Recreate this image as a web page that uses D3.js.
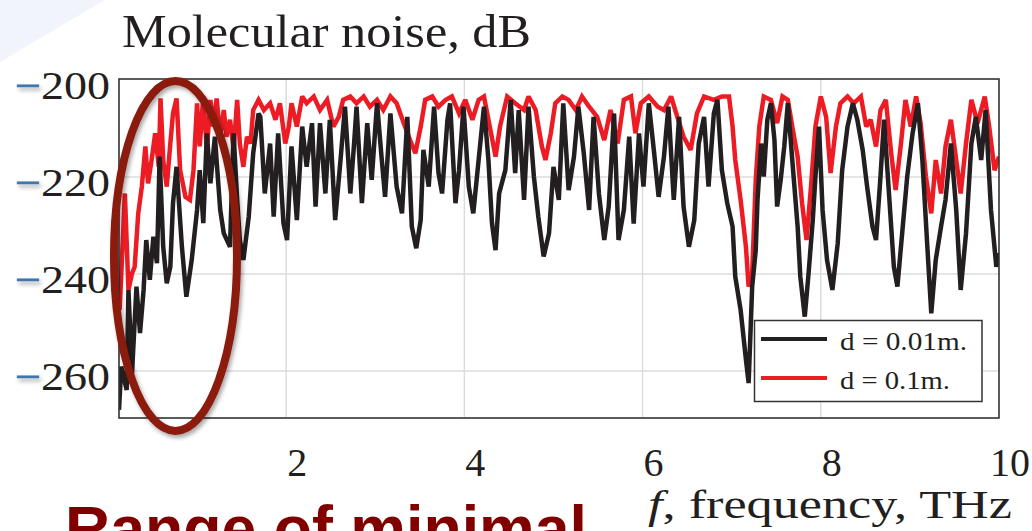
<!DOCTYPE html>
<html>
<head>
<meta charset="utf-8">
<script src="https://cdnjs.cloudflare.com/ajax/libs/d3/7.8.5/d3.min.js"></script>
<style>
  html, body { margin: 0; padding: 0; background: #ffffff; }
  svg { display: block; }
</style>
</head>
<body>
<svg id="chart" width="1032" height="531"></svg>
<script>
// ---------- data ----------
const blackFreq = [0.124,0.15,0.21,0.23,0.27,0.32,0.36,0.40,0.43,0.47,0.51,0.55,0.58,0.62,0.66,0.70,0.73,0.77,0.83,0.88,0.94,1.00,1.03,1.07,1.11,1.15,1.20,1.26,1.30,1.37,1.41,1.45,1.48,1.52,1.58,1.63,1.69,
  1.71,1.76,1.82,1.86,1.91,1.97,2.01,2.06,2.12,2.18,2.23,2.29,2.33,2.38,2.44,2.49,2.55,2.61,2.66,2.72,2.76,2.79,2.85,2.91,2.96,3.02,3.07,3.11,3.17,3.24,3.30,3.36,3.41,3.46,3.51,3.54,3.60,3.66,3.71,3.75,3.81,3.84,3.90,3.94,3.99,4.05,4.10,4.16,4.22,4.27,4.31,4.35,4.39,
  4.46,4.52,4.57,4.61,4.67,4.72,4.78,4.83,4.89,4.95,5.00,5.06,5.11,5.17,5.23,5.28,5.34,5.40,5.45,5.51,5.57,5.62,5.68,5.73,5.79,5.85,5.90,5.96,6.01,6.07,6.13,6.18,6.24,6.29,6.35,6.41,6.46,6.52,6.58,6.63,6.69,6.74,6.80,6.84,6.89,6.95,7.01,7.04,7.10,7.16,7.19,7.23,7.27,
  7.29,7.33,7.36,7.40,7.44,7.48,7.51,7.55,7.59,7.63,7.68,7.74,7.77,7.82,7.86,7.91,7.94,7.98,8.02,8.07,8.13,8.19,8.24,8.30,8.36,8.41,8.47,8.52,8.58,8.62,8.67,8.71,8.77,8.82,8.86,8.92,8.97,9.03,9.09,9.14,9.20,9.24,9.29,9.35,9.40,9.46,9.52,9.57,9.63,9.69,9.74,9.80,9.85,9.91,9.97,10.0];
const blackDb = [-268.0,-259.1,-263.9,-243.3,-260.5,-242.6,-252.2,-243.3,-233.0,-241.2,-232.3,-237.8,-215.8,-234.4,-241.9,-238.5,-225.4,-217.9,-234.4,-244.7,-237.1,-226.8,-218.6,-229.5,-211.0,-221.3,-211.7,-226.8,-231.6,-234.4,-211.0,-224.7,-233.0,-237.1,-228.2,-215.1,-206.9,
  -207.6,-223.4,-213.1,-228.2,-211.0,-229.6,-233.0,-213.7,-228.9,-209.6,-217.9,-208.9,-226.1,-208.9,-223.4,-208.2,-228.9,-216.5,-205.5,-223.4,-213.7,-205.5,-225.4,-208.9,-220.6,-204.8,-215.8,-224.1,-206.9,-222.0,-227.5,-207.6,-230.2,-234.7,-228.9,-214.4,-222.0,-205.5,-219.2,-223.4,-208.2,-204.8,-225.4,-218.6,-205.5,-222.0,-227.5,-216.5,-205.5,-216.5,-229.6,-235.1,-223.4,
  -218.6,-204.1,-219.2,-206.2,-224.7,-205.5,-219.9,-228.2,-236.4,-231.6,-217.9,-224.7,-204.8,-222.7,-215.8,-205.5,-215.1,-226.8,-207.6,-223.4,-233.0,-226.1,-206.9,-233.0,-226.8,-211.7,-229.6,-211.0,-222.0,-204.8,-215.1,-224.1,-215.8,-205.5,-224.7,-207.6,-226.1,-234.4,-228.9,-213.1,-207.6,-222.0,-206.9,-204.1,-218.6,-225.4,-230.2,-240.5,-247.4,-257.7,-262.5,-242.6,-235.1,
  -224.7,-213.1,-219.9,-208.2,-204.8,-212.4,-226.1,-220.6,-213.7,-204.8,-216.5,-230.2,-240.5,-248.8,-240.5,-228.9,-219.9,-209.6,-226.8,-237.1,-243.3,-233.7,-218.6,-209.6,-204.8,-208.2,-214.4,-222.0,-230.2,-233.0,-219.9,-208.2,-224.7,-238.5,-242.6,-230.2,-219.9,-211.0,-204.8,-216.5,-235.7,-248.1,-237.1,-230.2,-224.7,-213.1,-226.8,-243.3,-231.6,-213.1,-207.6,-216.5,-206.2,-226.8,-238.5,-235.7];

const redFreq = [0.13,0.15,0.19,0.23,0.27,0.30,0.34,0.38,0.42,0.45,0.49,0.53,0.57,0.59,0.62,0.66,0.70,0.73,0.77,0.81,0.87,0.92,0.96,1.00,1.03,1.07,1.11,1.15,1.18,1.22,1.26,1.30,1.33,1.37,1.41,1.45,1.48,1.52,1.56,1.60,1.63,1.69,
  1.75,1.82,1.88,1.93,1.99,2.03,2.06,2.12,2.18,2.23,2.31,2.38,2.46,2.53,2.59,2.64,2.72,2.79,2.87,2.94,3.02,3.09,3.17,3.24,3.32,3.39,3.45,3.51,3.56,3.64,3.71,3.79,3.86,3.94,4.01,4.09,4.16,4.22,4.27,4.35,4.40,
  4.48,4.57,4.67,4.72,4.80,4.87,4.91,4.97,5.02,5.10,5.17,5.25,5.32,5.40,5.49,5.57,5.64,5.72,5.79,5.87,5.92,5.98,6.07,6.17,6.24,6.32,6.39,6.46,6.54,6.61,6.69,6.80,6.89,6.97,7.01,7.04,7.10,7.16,7.19,7.23,7.27,
  7.31,7.36,7.44,7.51,7.57,7.63,7.68,7.74,7.79,7.84,7.89,7.94,8.00,8.06,8.11,8.17,8.22,8.30,8.37,8.45,8.51,8.56,8.62,8.67,8.73,8.79,8.84,8.90,8.95,9.01,9.07,9.12,9.18,9.24,9.29,9.35,9.40,9.46,9.52,9.57,9.63,9.69,9.76,9.84,9.89,9.95,10.0];
const redDb = [-247.4,-239.9,-223.4,-243.3,-239.9,-238.5,-227.5,-222.0,-213.7,-221.3,-216.5,-211.0,-217.9,-203.8,-216.5,-222.0,-213.1,-206.9,-203.8,-218.6,-224.1,-224.7,-218.6,-204.8,-213.7,-203.4,-214.4,-204.1,-209.6,-203.8,-211.7,-206.2,-211.7,-208.2,-214.4,-204.1,-213.1,-217.9,-211.7,-213.1,-206.2,-204.1,
  -206.2,-204.8,-208.2,-204.8,-213.1,-209.6,-204.8,-209.6,-203.4,-204.8,-203.4,-206.2,-204.1,-209.6,-207.6,-204.1,-203.4,-204.8,-203.4,-205.5,-204.1,-206.2,-203.4,-204.8,-208.9,-212.4,-215.1,-209.6,-204.1,-203.4,-205.5,-204.1,-203.4,-206.9,-204.1,-208.2,-204.1,-203.4,-208.2,-215.8,-209.6,
  -203.4,-204.8,-206.2,-203.4,-206.2,-213.7,-216.5,-211.0,-204.8,-203.4,-204.1,-206.2,-203.4,-205.5,-207.6,-212.4,-206.2,-213.1,-204.1,-203.4,-211.0,-204.8,-203.4,-205.5,-206.2,-203.4,-207.6,-211.7,-214.4,-206.9,-203.4,-204.1,-203.4,-203.4,-209.6,-216.5,-224.7,-234.4,-242.6,-239.9,-220.6,
  -209.6,-203.4,-204.1,-208.9,-203.4,-204.1,-209.6,-215.8,-225.4,-233.0,-222.0,-209.6,-203.4,-207.6,-219.2,-209.6,-204.8,-203.4,-204.8,-203.4,-209.6,-208.2,-213.7,-206.2,-204.1,-215.1,-222.7,-213.1,-204.1,-209.6,-203.4,-208.9,-219.9,-227.5,-216.5,-223.4,-213.7,-208.2,-216.5,-223.4,-213.1,-204.1,-208.9,-203.4,-209.6,-218.6,-215.8];

const xTicks = [2, 4, 6, 8, 10];
const yTicks = [-200, -220, -240, -260];
const seriesNames = ["d = 0.01m.", "d = 0.1m."];
const seriesColors = ["#231f20", "#ed1c24"];
const titleText = "Molecular noise, dB";
const calloutText = "Range of minimal";

// ---------- drawing ----------
const svg = d3.select("#chart");
const plot = { left: 119, right: 999, top: 79, bottom: 418 };

const x = d3.scaleLinear().domain([0.124, 10.0]).range([plot.left, plot.right]);
const y = d3.scaleLinear().domain([-269.7, -200]).range([418, 80]);

const defs = svg.append("defs");
defs.append("clipPath").attr("id", "plotClip")
  .append("rect").attr("x", plot.left).attr("y", plot.top)
  .attr("width", plot.right - plot.left).attr("height", plot.bottom - plot.top);
const sh = defs.append("filter").attr("id", "shadow")
  .attr("x", "-20%").attr("y", "-20%").attr("width", "140%").attr("height", "140%");
sh.append("feDropShadow").attr("dx", 2).attr("dy", 3).attr("stdDeviation", 2)
  .attr("flood-color", "#000").attr("flood-opacity", 0.35);

// faint slide decoration at top-left
svg.append("polygon").attr("points", "0,0 105,0 0,62").attr("fill", "#f1f5fb");

// plot background
svg.append("rect").attr("x", plot.left).attr("y", plot.top)
  .attr("width", plot.right - plot.left).attr("height", plot.bottom - plot.top)
  .attr("fill", "#ffffff");

// grid
const gridG = svg.append("g");
gridG.selectAll("line.vx").data(xTicks.filter(d => x(d) < plot.right - 2)).enter().append("line")
  .attr("x1", d => x(d)).attr("x2", d => x(d))
  .attr("y1", plot.top).attr("y2", plot.bottom)
  .attr("stroke", "#dcdcdc").attr("stroke-width", 1.5);
gridG.selectAll("line.hy").data(yTicks.filter(d => y(d) > plot.top + 2)).enter().append("line")
  .attr("x1", plot.left).attr("x2", plot.right)
  .attr("y1", d => y(d)).attr("y2", d => y(d))
  .attr("stroke", "#dcdcdc").attr("stroke-width", 1.5);

// lines
const lineGen = d3.line().x(d => x(d[0])).y(d => y(d[1])).curve(d3.curveLinear);
const blackData = blackFreq.map((f, i) => [f, blackDb[i]]);
const redData = redFreq.map((f, i) => [f, redDb[i]]);
const linesG = svg.append("g").attr("clip-path", "url(#plotClip)");
linesG.append("path").datum(redData).attr("d", lineGen)
  .attr("fill", "none").attr("stroke", seriesColors[1]).attr("stroke-width", 4.5)
  .attr("stroke-linejoin", "miter").attr("stroke-miterlimit", 2.5);
linesG.append("path").datum(blackData).attr("d", lineGen)
  .attr("fill", "none").attr("stroke", seriesColors[0]).attr("stroke-width", 4.5)
  .attr("stroke-linejoin", "miter").attr("stroke-miterlimit", 2.5);

// frame
svg.append("rect").attr("x", plot.left).attr("y", plot.top)
  .attr("width", plot.right - plot.left).attr("height", plot.bottom - plot.top)
  .attr("fill", "none").attr("stroke", "#333333").attr("stroke-width", 1.6);

// legend
const serif = "'Liberation Serif', 'Times New Roman', serif";
const lg = svg.append("g");
lg.append("rect").attr("x", 754.5).attr("y", 320.5).attr("width", 227.5).attr("height", 81)
  .attr("fill", "#ffffff").attr("stroke", "#333333").attr("stroke-width", 1.5);
const legendRows = [{ y: 339, by: 349.5, w: 127 }, { y: 378, by: 388.5, w: 110 }];
seriesNames.forEach((name, i) => {
  lg.append("line").attr("x1", 761).attr("x2", 827)
    .attr("y1", legendRows[i].y).attr("y2", legendRows[i].y)
    .attr("stroke", seriesColors[i]).attr("stroke-width", 4);
  lg.append("text").attr("x", 840).attr("y", legendRows[i].by)
    .attr("font-family", serif)
    .attr("font-size", 26).attr("fill", "#231f20")
    .attr("textLength", legendRows[i].w).attr("lengthAdjust", "spacingAndGlyphs")
    .text(name);
});

// y tick labels
const yl = svg.append("g");
yTicks.forEach(v => {
  const t = yl.append("text").attr("x", 15).attr("y", y(v) + 19)
    .attr("font-family", serif).attr("font-size", 40).attr("fill", "#231f20")
    .attr("textLength", 95).attr("lengthAdjust", "spacingAndGlyphs");
  t.append("tspan").attr("fill", "#3f74ad").attr("stroke", "#3f74ad").attr("stroke-width", 0.8)
    .attr("filter", "url(#shadow)").text("\u2212");
  t.append("tspan").text(String(Math.abs(v)));
});

// x tick labels
const xl = svg.append("g");
xTicks.forEach(v => {
  xl.append("text").attr("x", x(v) + 11).attr("y", 476)
    .attr("text-anchor", "middle")
    .attr("font-family", serif).attr("font-size", 40).attr("fill", "#231f20")
    .text(String(v));
});

// x axis title
const xt = svg.append("text").attr("x", 648).attr("y", 518)
  .attr("font-family", serif).attr("font-size", 39).attr("fill", "#231f20")
  .attr("textLength", 364).attr("lengthAdjust", "spacingAndGlyphs");
xt.append("tspan").attr("font-style", "italic").text("f");
xt.append("tspan").text(", frequency, THz");

// title
svg.append("text").attr("x", 122).attr("y", 47)
  .attr("font-family", serif).attr("font-size", 47).attr("fill", "#231f20")
  .attr("textLength", 409).attr("lengthAdjust", "spacingAndGlyphs")
  .text(titleText);

// callout ellipse
svg.append("ellipse").attr("cx", 175.5).attr("cy", 256).attr("rx", 61.5).attr("ry", 175)
  .attr("fill", "none").attr("stroke", "#8b1a0e").attr("stroke-width", 8)
  .attr("filter", "url(#shadow)");

// callout text (cut off by the bottom edge, as in the reference)
svg.append("text").attr("x", 65).attr("y", 550)
  .attr("font-family", "'Liberation Sans', Arial, sans-serif").attr("font-weight", "bold")
  .attr("font-size", 63).attr("fill", "#800000")
  .attr("textLength", 522).attr("lengthAdjust", "spacingAndGlyphs")
  .text(calloutText);
</script>
</body>
</html>
